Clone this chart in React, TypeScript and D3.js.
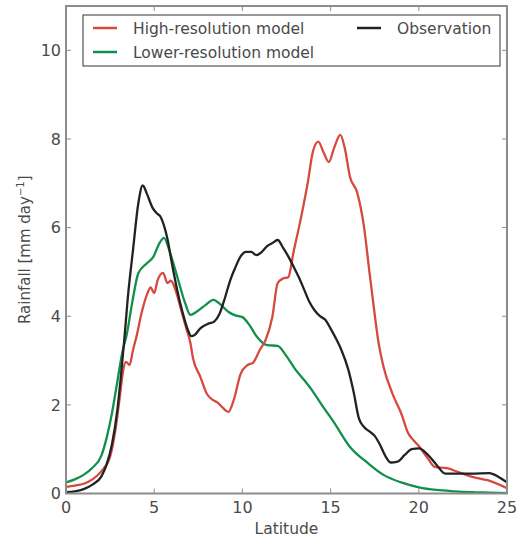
import React from "react";
import * as d3 from "d3";

const xTicks = [0, 5, 10, 15, 20, 25];
const yTicks = [0, 2, 4, 6, 8, 10];

const obsLat = [0,0.5,1,1.5,2,2.3,2.6,2.9,3.1,3.3,3.5,3.8,4.1,4.35,4.6,4.9,5.15,5.35,5.55,5.75,6.0,6.3,6.6,6.9,7.1,7.3,7.6,8.0,8.4,8.7,9.0,9.3,9.6,9.9,10.2,10.5,10.8,11.1,11.4,11.7,12.0,12.3,12.6,12.9,13.2,13.5,13.8,14.1,14.4,14.7,15.0,15.3,15.6,16.0,16.3,16.6,16.9,17.2,17.5,17.8,18.1,18.4,18.8,19.2,19.6,20.0,20.5,21.0,21.5,22.0,23.0,24.0,24.5,25];
const obsRain = [0.03,0.05,0.1,0.2,0.38,0.65,1.1,1.85,2.6,3.45,4.4,5.5,6.55,6.95,6.75,6.45,6.32,6.25,6.05,5.75,5.2,4.6,4.1,3.7,3.55,3.58,3.72,3.82,3.88,4.05,4.4,4.8,5.1,5.35,5.45,5.45,5.38,5.45,5.58,5.65,5.72,5.55,5.35,5.12,4.88,4.6,4.32,4.13,4.0,3.92,3.72,3.5,3.25,2.8,2.3,1.7,1.5,1.4,1.3,1.1,0.85,0.7,0.72,0.87,1.0,1.02,0.88,0.65,0.45,0.45,0.45,0.46,0.38,0.25];

const lowLat = [0,0.5,1,1.5,2,2.3,2.6,2.9,3.2,3.45,3.75,4.1,4.6,4.95,5.3,5.55,5.9,6.3,6.75,7.05,7.4,7.9,8.35,8.8,9.2,9.6,10.0,10.4,10.8,11.4,12.0,12.5,13.0,13.5,14.0,14.5,15.2,16.1,17.1,18.0,19.0,20.0,21.0,22.0,23.0,24.0,25];
const lowRain = [0.25,0.32,0.42,0.58,0.85,1.25,1.8,2.5,3.2,3.6,4.3,4.97,5.2,5.34,5.65,5.77,5.43,4.9,4.3,4.03,4.1,4.25,4.37,4.25,4.1,4.02,3.98,3.8,3.55,3.35,3.33,3.1,2.8,2.56,2.3,2.0,1.6,1.05,0.69,0.42,0.25,0.14,0.08,0.05,0.03,0.02,0.01];

const highLat = [0,0.5,1,1.5,2,2.5,2.8,3.05,3.25,3.4,3.6,3.8,4.0,4.3,4.6,4.8,5.0,5.2,5.5,5.75,5.95,6.2,6.5,6.8,7.05,7.2,7.6,8.0,8.3,8.6,8.9,9.2,9.5,9.9,10.3,10.6,11.0,11.3,11.7,12.0,12.3,12.6,12.9,13.3,13.7,14.0,14.3,14.6,14.9,15.2,15.55,15.8,16.1,16.5,16.9,17.2,17.45,17.7,18.0,18.5,19.0,19.4,19.7,20.0,20.5,20.9,21.6,22.2,23.1,23.9,25];
const highRain = [0.15,0.18,0.22,0.32,0.5,0.83,1.43,2.18,2.8,2.97,2.9,3.24,3.55,4.1,4.5,4.65,4.52,4.82,4.98,4.75,4.8,4.6,4.18,3.75,3.4,3.05,2.65,2.24,2.12,2.05,1.93,1.84,2.1,2.7,2.9,2.95,3.25,3.45,3.99,4.75,4.85,4.88,5.45,6.18,7.0,7.72,7.94,7.7,7.48,7.8,8.09,7.8,7.14,6.8,6.0,5.0,4.2,3.45,2.86,2.26,1.81,1.36,1.2,1.07,0.8,0.6,0.57,0.49,0.37,0.3,0.12];

const seriesNames = ["High-resolution model", "Lower-resolution model", "Observation"];
const seriesColors = ["#d6493f", "#11904a", "#222222"];

export default function App() {
  const W = 519, H = 542;
  const left = 66, right = 507, top = 6, bottom = 493.5;
  const x = d3.scaleLinear().domain([0, 25]).range([left, right]);
  const y = d3.scaleLinear().domain([0, 11]).range([bottom, top]);
  const line = d3.line<[number, number]>().x(d => x(d[0])).y(d => y(d[1])).curve(d3.curveMonotoneX);
  const series = [
    { lat: highLat, v: highRain },
    { lat: lowLat, v: lowRain },
    { lat: obsLat, v: obsRain },
  ];
  const font = "DejaVu Sans, sans-serif";
  const frame = "#8c8c8c";
  const textCol = "#4a4a4a";
  const tl = 5;
  return (
    <svg width={W} height={H} style={{ position: "absolute", left: 0, top: 0 }} fontFamily={font}>
      <rect x={0} y={0} width={W} height={H} fill="#fff" />
      <defs>
        <clipPath id="plot">
          <rect x={left} y={top} width={right - left} height={bottom - top} />
        </clipPath>
      </defs>
      <g clipPath="url(#plot)">
        {[1, 0, 2].map(i => (
          <path key={i} d={line(series[i].lat.map((l, j) => [l, series[i].v[j]] as [number, number])) || ""}
            fill="none" stroke={seriesColors[i]} strokeWidth={2.3} strokeLinejoin="round" />
        ))}
      </g>
      <rect x={left} y={top} width={right - left} height={bottom - top} fill="none" stroke={frame} strokeWidth={2} />
      {xTicks.map(t => (
        <g key={"x" + t}>
          <line x1={x(t)} x2={x(t)} y1={bottom} y2={bottom - tl} stroke={frame} strokeWidth={1} />
          <line x1={x(t)} x2={x(t)} y1={top} y2={top + tl} stroke={frame} strokeWidth={1} />
          <text x={x(t)} y={bottom + 19.5} textAnchor="middle" fontSize={16} fill={textCol}>{t}</text>
        </g>
      ))}
      {yTicks.map(t => (
        <g key={"y" + t}>
          <line x1={left} x2={left + tl} y1={y(t)} y2={y(t)} stroke={frame} strokeWidth={1} />
          <line x1={right} x2={right - tl} y1={y(t)} y2={y(t)} stroke={frame} strokeWidth={1} />
          <text x={left - 5} y={y(t)} dy="0.36em" textAnchor="end" fontSize={16} fill={textCol}>{t}</text>
        </g>
      ))}
      <text x={(left + right) / 2} y={534} textAnchor="middle" fontSize={15.5} fill={textCol}>Latitude</text>
      <text transform={`translate(30,${(top + bottom) / 2}) rotate(-90)`} textAnchor="middle" fontSize={15} fill={textCol}>
        Rainfall [mm day<tspan dy="-6" fontSize={10}>−1</tspan><tspan dy="6">]</tspan>
      </text>
      <rect x={83} y={15} width={417} height={51} fill="#fff" stroke="#333" strokeWidth={1} />
      {[
        { i: 0, lx: 93, ty: 28 },
        { i: 1, lx: 93, ty: 52 },
        { i: 2, lx: 357, ty: 28 },
      ].map(({ i, lx, ty }) => (
        <g key={"l" + i}>
          <line x1={lx} x2={lx + 24} y1={ty} y2={ty} stroke={seriesColors[i]} strokeWidth={2.5} />
          <text x={lx + 40} y={ty} dy="0.36em" fontSize={15.5} fill={textCol}>{seriesNames[i]}</text>
        </g>
      ))}
    </svg>
  );
}
